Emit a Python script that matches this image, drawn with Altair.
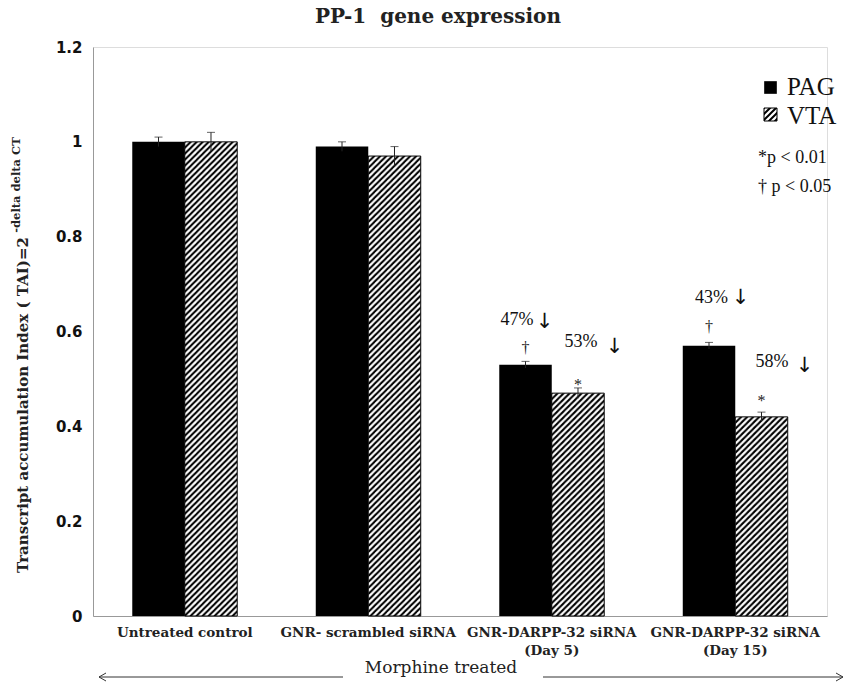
import base64
import altair as alt
import pandas as pd

# ---------------- data ----------------
categories = [
    "Untreated control",
    "GNR- scrambled siRNA",
    "GNR-DARPP-32 siRNA\n(Day 5)",
    "GNR-DARPP-32 siRNA\n(Day 15)",
]
groups = ["PAG", "VTA"]
pag_values = [1.00, 0.99, 0.53, 0.57]
pag_errors = [0.01, 0.01, 0.007, 0.007]
vta_values = [1.00, 0.97, 0.47, 0.42]
vta_errors = [0.02, 0.02, 0.011, 0.01]

pct_labels = ["47%", "53%", "43%", "58%"]
pct_cats = [categories[2], categories[2], categories[3], categories[3]]
pct_groups = ["PAG", "VTA", "PAG", "VTA"]
pct_y = [0.624, 0.578, 0.671, 0.536]

sig_symbols = ["\u2020", "*", "\u2020", "*"]
sig_cats = [categories[2], categories[2], categories[3], categories[3]]
sig_groups = ["PAG", "VTA", "PAG", "VTA"]
sig_y = [0.565, 0.488, 0.610, 0.454]

y_ticks = [0, 0.2, 0.4, 0.6, 0.8, 1.0, 1.2]

# ---------------- tables ----------------
rows = []
for c, v, e in zip(categories, pag_values, pag_errors):
    rows.append({"cat": c, "grp": "PAG", "value": v, "lo": v - e, "hi": v + e})
for c, v, e in zip(categories, vta_values, vta_errors):
    rows.append({"cat": c, "grp": "VTA", "value": v, "lo": v - e, "hi": v + e})
df = pd.DataFrame(rows)
df["zero"] = 0.0

pct_df = pd.DataFrame({"cat": pct_cats, "grp": pct_groups, "y": pct_y, "label": pct_labels})
sig_df = pd.DataFrame({"cat": sig_cats, "grp": sig_groups, "y": sig_y, "sym": sig_symbols})
dummy = pd.DataFrame({"d": [0]})

# styles
pct_dx = [-8.5, 3, 2.5, 10.5]
arrow_dx = [19, 36.5, 31.5, 43]
arrow_dy = [2, 5, 0, 4]

hatch_svg = (
    "<svg xmlns='http://www.w3.org/2000/svg' width='100%' height='100%'>"
    "<defs><pattern id='h' width='6' height='6' patternUnits='userSpaceOnUse'>"
    "<path d='M-1.5,1.5 L1.5,-1.5 M0,6 L6,0 M4.5,7.5 L7.5,4.5' stroke='black' stroke-width='2'/>"
    "</pattern></defs>"
    "<rect width='100%' height='100%' fill='white'/>"
    "<rect width='100%' height='100%' fill='url(#h)'/></svg>"
)
hatch_url = "data:image/svg+xml;base64," + base64.b64encode(hatch_svg.encode()).decode()
df["url"] = hatch_url

SERIF_B = "DejaVu Serif"
TIMES = "Liberation Serif"

x_enc = alt.X(
    "cat:N",
    sort=categories,
    scale=alt.Scale(domain=categories, paddingInner=0.428, paddingOuter=0.214),
    axis=alt.Axis(
        title=None,
        labelAngle=0,
        labelExpr="split(datum.label, '\\n')",
        labelFont=SERIF_B,
        labelFontWeight="bold",
        labelFontSize=13.5,
        labelColor="#222",
        labelLineHeight=18,
        labelPadding=16,
        ticks=False,
        domainColor="#999",
        labelBaseline="middle",
    ),
)
xo_enc = alt.XOffset("grp:N", scale=alt.Scale(domain=groups, paddingInner=0, paddingOuter=0))
y_scale = alt.Scale(domain=[0, 1.2], nice=False, zero=True)
y_enc = alt.Y(
    "value:Q",
    scale=y_scale,
    axis=alt.Axis(
        title=None,
        values=y_ticks,
        format=".1~f",
        grid=False,
        ticks=False,
        labelFont="DejaVu Sans",
        labelFontWeight="bold",
        labelFontSize=15,
        labelColor="#111",
        labelPadding=11,
        domainColor="#999",
    ),
)

base = alt.Chart(df)

pag_bars = base.transform_filter(alt.datum.grp == "PAG").mark_bar(color="black").encode(
    x=x_enc, xOffset=xo_enc, y=y_enc, y2=alt.Y2("zero:Q")
)
vta_hatch = base.transform_filter(alt.datum.grp == "VTA").mark_image(aspect=False).encode(
    x=x_enc, xOffset=xo_enc, y=alt.Y("value:Q", scale=y_scale), y2=alt.Y2("zero:Q"), url="url:N"
)
vta_outline = base.transform_filter(alt.datum.grp == "VTA").mark_bar(
    fillOpacity=0, stroke="black", strokeWidth=1
).encode(x=x_enc, xOffset=xo_enc, y=alt.Y("value:Q", scale=y_scale), y2=alt.Y2("zero:Q"))

err_rule = base.mark_rule(color="#222", strokeWidth=1).encode(
    x=x_enc, xOffset=xo_enc, y=alt.Y("lo:Q", scale=y_scale), y2="hi:Q"
)
err_cap = base.mark_tick(color="#222", thickness=1, size=8, orient="horizontal").encode(
    x=x_enc, xOffset=xo_enc, y=alt.Y("hi:Q", scale=y_scale)
)

layers = [pag_bars, vta_hatch, vta_outline, err_rule, err_cap]

for i in range(len(pct_labels)):
    sub = pct_df.iloc[[i]]
    layers.append(
        alt.Chart(sub).mark_text(font=TIMES, fontSize=18, color="#111", dx=pct_dx[i], baseline="middle").encode(
            x=x_enc, xOffset=xo_enc, y=alt.Y("y:Q", scale=y_scale), text="label:N"
        )
    )
    layers.append(
        alt.Chart(sub).mark_text(font="DejaVu Sans", fontSize=21, color="#111", dx=arrow_dx[i], dy=arrow_dy[i], baseline="middle").encode(
            x=x_enc, xOffset=xo_enc, y=alt.Y("y:Q", scale=y_scale), text=alt.value("\u2193")
        )
    )

layers.append(
    alt.Chart(sig_df).mark_text(font=TIMES, fontSize=16, color="#222", baseline="middle").encode(
        x=x_enc, xOffset=xo_enc, y=alt.Y("y:Q", scale=y_scale), text="sym:N"
    )
)

# title
layers.append(
    alt.Chart(dummy).mark_text(font=SERIF_B, fontWeight="bold", fontSize=20, color="#222", baseline="middle").encode(
        x=alt.value(345), y=alt.value(-30), text=alt.value("PP-1\u00a0 gene expression")
    )
)
# y title
layers.append(
    alt.Chart(dummy).mark_text(font=SERIF_B, fontWeight="bold", fontSize=15, color="#222", angle=270, baseline="middle").encode(
        x=alt.value(-70), y=alt.value(358), text=alt.value("Transcript accumulation Index ( TAI)=2")
    )
)
layers.append(
    alt.Chart(dummy).mark_text(font=SERIF_B, fontWeight="bold", fontSize=11.5, color="#222", angle=270, baseline="middle").encode(
        x=alt.value(-76), y=alt.value(138), text=alt.value("-delta delta CT")
    )
)
# Morphine treated
layers.append(
    alt.Chart(dummy).mark_text(font=SERIF_B, fontSize=17, color="#222", baseline="middle").encode(
        x=alt.value(348), y=alt.value(621), text=alt.value("Morphine treated")
    )
)
arrow_lines = [
    (6, 250, 630, 630),
    (450, 750, 630, 630),
    (6, 13, 630, 626),
    (6, 13, 630, 634),
    (750, 743, 630, 626),
    (750, 743, 630, 634),
]
for x1, x2, y1, y2 in arrow_lines:
    layers.append(
        alt.Chart(dummy).mark_rule(color="#333", strokeWidth=1).encode(
            x=alt.value(x1), x2=alt.value(x2), y=alt.value(y1), y2=alt.value(y2)
        )
    )

# legend
layers.append(
    alt.Chart(dummy).mark_square(size=160, color="black", opacity=1, filled=True).encode(
        x=alt.value(677.5), y=alt.value(40.5)
    )
)
layers.append(
    alt.Chart(dummy).mark_image(aspect=False).encode(
        x=alt.value(671), x2=alt.value(684), y=alt.value(61), y2=alt.value(74), url=alt.value(hatch_url)
    )
)
layers.append(
    alt.Chart(dummy).mark_square(size=169, filled=False, stroke="black", strokeWidth=1, opacity=1).encode(
        x=alt.value(677.5), y=alt.value(67.5)
    )
)
legend_texts = [("PAG", 694, 40, 25), ("VTA", 694, 69, 25), ("*p < 0.01", 665, 111, 18), ("\u2020 p < 0.05", 665, 140, 18)]
for t, lx, ly, fs in legend_texts:
    layers.append(
        alt.Chart(dummy).mark_text(font=TIMES, fontSize=fs, color="#111", align="left", baseline="middle").encode(
            x=alt.value(lx), y=alt.value(ly), text=alt.value(t)
        )
    )

chart = alt.layer(*layers).properties(
    width=734,
    height=569,
    autosize=alt.AutoSizeParams(type="none"),
    padding={"left": 93, "top": 47, "right": 16, "bottom": 68},
).configure_view(stroke=None).configure(background="white")

chart.save("out.html", embed_options={"renderer": "svg", "actions": False})
